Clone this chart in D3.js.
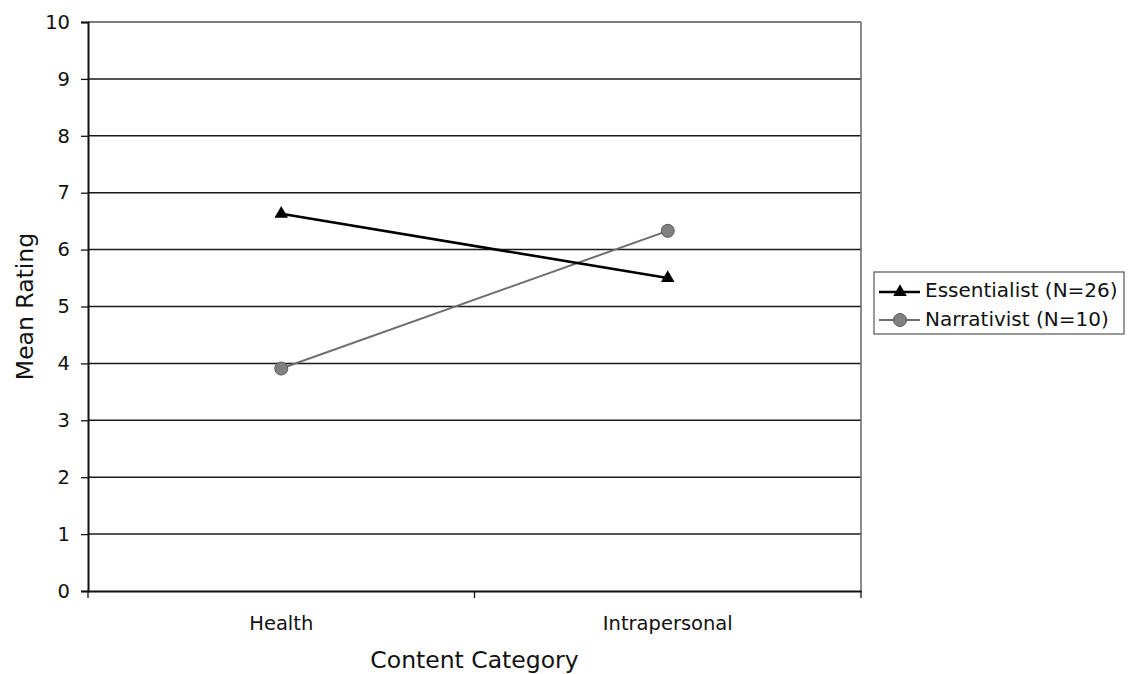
<!DOCTYPE html>
<html>
<head>
<meta charset="utf-8">
<script src="https://cdn.jsdelivr.net/npm/d3@7"></script>
<style>
  html, body { margin: 0; padding: 0; background: #fff; }
  svg { display: block; font-family: "DejaVu Sans", Verdana, sans-serif; }
</style>
</head>
<body>
<svg id="chart" width="1128" height="674"></svg>
<script>
// Content categories on the x axis
const categories = ["Health", "Intrapersonal"];
// Mean ratings for each group
const essentialist = [6.63, 5.50];
const narrativist = [3.91, 6.33];
const seriesNames = ["Essentialist (N=26)", "Narrativist (N=10)"];
const yTicks = [0, 1, 2, 3, 4, 5, 6, 7, 8, 9, 10];

const FONT = "'DejaVu Sans', Verdana, sans-serif";
const svg = d3.select("#chart");
const plotL = 88, plotR = 861, plotT = 22, plotB = 591;

const x = d3.scaleBand().domain(categories).range([plotL, plotR]).padding(0);
const y = d3.scaleLinear().domain([0, 10]).range([plotB, plotT]);

// Horizontal gridlines
svg.append("g").selectAll("line").data(yTicks.filter(d => d > 0 && d < 10)).join("line")
  .attr("x1", plotL).attr("x2", plotR)
  .attr("y1", d => y(d)).attr("y2", d => y(d))
  .attr("stroke", "#1a1a1a").attr("stroke-width", 1.5);

// Top and right frame edges
svg.append("line").attr("x1", plotL).attr("x2", plotR).attr("y1", plotT).attr("y2", plotT)
  .attr("stroke", "#555").attr("stroke-width", 1.5);
svg.append("line").attr("x1", plotR).attr("x2", plotR).attr("y1", plotT).attr("y2", plotB)
  .attr("stroke", "#666").attr("stroke-width", 1.5);

// Y axis
const yAxis = svg.append("g").attr("transform", `translate(${plotL},0)`)
  .call(d3.axisLeft(y).tickValues(yTicks).tickSize(7).tickPadding(11).tickFormat(d3.format("d")));
yAxis.select(".domain").attr("stroke", "#111").attr("stroke-width", 2);
yAxis.selectAll(".tick line").attr("stroke", "#111").attr("stroke-width", 1.3);
yAxis.selectAll("text").attr("font-size", 19.5).attr("fill", "#111").attr("font-family", FONT);

// X axis with tick marks at category boundaries
const xAxis = svg.append("g").attr("transform", `translate(0,${plotB})`)
  .call(d3.axisBottom(x).tickSize(0));
xAxis.select(".domain").attr("stroke", "#111").attr("stroke-width", 2);
xAxis.selectAll("text").attr("font-size", 19.5).attr("fill", "#111").attr("font-family", FONT)
  .attr("y", 39).attr("dy", 0);
const bounds = [plotL].concat(categories.map(c => x(c) + x.bandwidth()));
xAxis.selectAll(".bound").data(bounds).join("line").attr("class", "bound")
  .attr("x1", d => d).attr("x2", d => d).attr("y1", 0).attr("y2", 7)
  .attr("stroke", "#111").attr("stroke-width", 1.3);

// Axis titles
svg.append("text").attr("x", (plotL + plotR) / 2).attr("y", 668)
  .attr("text-anchor", "middle").attr("font-size", 23.5).attr("fill", "#111")
  .text("Content Category");
svg.append("text").attr("transform", `translate(33,${(plotT + plotB) / 2}) rotate(-90)`)
  .attr("text-anchor", "middle").attr("font-size", 23.5).attr("fill", "#111")
  .text("Mean Rating");

const cx = c => x(c) + x.bandwidth() / 2;
const line = d3.line().x((d, i) => cx(categories[i])).y(d => y(d));

// Narrativist series (grey line, circles)
svg.append("path").datum(narrativist).attr("d", line)
  .attr("fill", "none").attr("stroke", "#6e6e6e").attr("stroke-width", 2);
svg.append("g").selectAll("circle").data(narrativist).join("circle")
  .attr("cx", (d, i) => cx(categories[i])).attr("cy", d => y(d)).attr("r", 6.5)
  .attr("fill", "#808080").attr("stroke", "#5a5a5a").attr("stroke-width", 1);

// Essentialist series (black line, triangles)
svg.append("path").datum(essentialist).attr("d", line)
  .attr("fill", "none").attr("stroke", "#000").attr("stroke-width", 2.6);
const tri = d3.symbol().type(d3.symbolTriangle).size(80);
svg.append("g").selectAll("path").data(essentialist).join("path")
  .attr("d", tri)
  .attr("transform", (d, i) => `translate(${cx(categories[i])},${y(d)})`)
  .attr("fill", "#000");

// Legend
const lg = svg.append("g").attr("transform", "translate(874,272)");
lg.append("rect").attr("width", 250).attr("height", 62)
  .attr("fill", "#fff").attr("stroke", "#555").attr("stroke-width", 1.2);
const items = [
  { name: seriesNames[0], color: "#000", w: 2.6, mark: "tri" },
  { name: seriesNames[1], color: "#6e6e6e", w: 2, mark: "circle" }
];
items.forEach((it, i) => {
  const gy = 20 + i * 28;
  lg.append("line").attr("x1", 5).attr("x2", 46).attr("y1", gy).attr("y2", gy)
    .attr("stroke", it.color).attr("stroke-width", it.w);
  if (it.mark === "tri") {
    lg.append("path").attr("d", d3.symbol().type(d3.symbolTriangle).size(80)())
      .attr("transform", `translate(26,${gy})`).attr("fill", "#000");
  } else {
    lg.append("circle").attr("cx", 26).attr("cy", gy).attr("r", 6.5)
      .attr("fill", "#808080").attr("stroke", "#5a5a5a");
  }
  lg.append("text").attr("x", 51).attr("y", gy + 5 + i).attr("font-size", 20)
    .attr("fill", "#111").text(it.name);
});
</script>
</body>
</html>
